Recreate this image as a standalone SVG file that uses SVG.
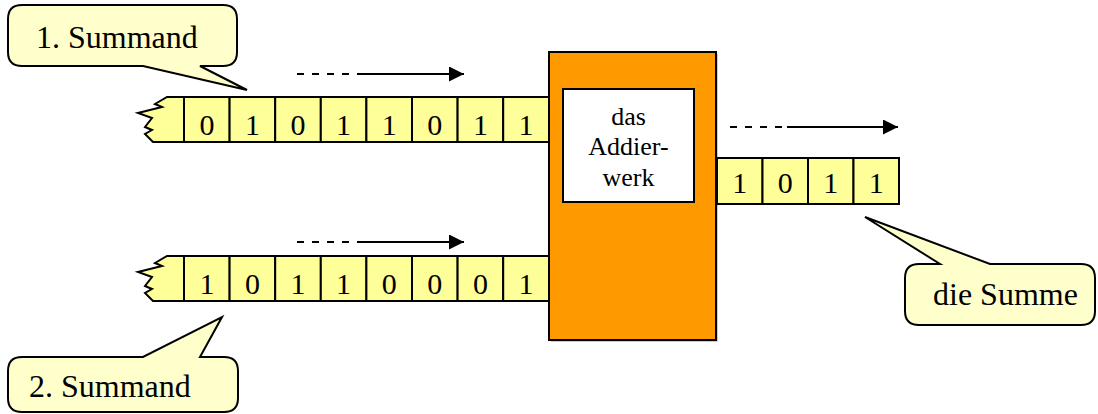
<svg xmlns="http://www.w3.org/2000/svg" width="1098" height="414" viewBox="0 0 1098 414">
<style>
.tape{fill:#FFFF99;stroke:#000;stroke-width:2;stroke-linejoin:miter}
.cell{fill:#FFFF99;stroke:#000;stroke-width:2}
.call{fill:#FFFFCC;stroke:#000;stroke-width:2;stroke-linejoin:miter}
.dig{font-size:30px;fill:#000;text-anchor:middle}
.lbl{font-size:32px;fill:#000}
.box{font-size:26px;fill:#000;text-anchor:middle}
.dash{stroke:#000;stroke-width:2;stroke-dasharray:7 8;fill:none}
.solid{stroke:#000;stroke-width:2;fill:none}
</style>
<defs>
<marker id="ah" markerUnits="userSpaceOnUse" markerWidth="16" markerHeight="16" refX="15" refY="7.5" orient="auto">
<path d="M0,0 L15,7.5 L0,15 Z" fill="#000"/>
</marker>
</defs>

<g font-family="'Liberation Serif', 'Times New Roman', 'DejaVu Serif', serif">
<g id="callout1">
<path class="call" d="M22,5 H223 Q237,5 237,19 V52 Q237,66 223,66 H200 L247,90 L143,66 H22 Q8,66 8,52 V19 Q8,5 22,5 Z"/>
<text class="lbl" x="36" y="48">1. Summand</text>
</g>

<g id="callout2">
<path class="call" d="M22,357 H143 L222,317 L200,357 H224 Q238,357 238,371 V398 Q238,412 224,412 H22 Q8,412 8,398 V371 Q8,357 22,357 Z"/>
<text class="lbl" x="29" y="397">2. Summand</text>
</g>

<g id="callout3">
<path class="call" d="M919,264 H940 L865,217 L990,264 H1081 Q1095,264 1095,278 V311 Q1095,325 1081,325 H919 Q905,325 905,311 V278 Q905,264 919,264 Z"/>
<text class="lbl" x="933" y="305">die Summe</text>
</g>

<g id="tape1">
<path class="tape" d="M167,97 L549,97 L549,142 L153,142 L145,134 L152,130 L145,127 L152,118 L138,113 L162,107 L155,104 Z"/>
<rect class="cell" x="184" y="97" width="45.6" height="45"/>
<rect class="cell" x="229.6" y="97" width="45.6" height="45"/>
<rect class="cell" x="275.2" y="97" width="45.6" height="45"/>
<rect class="cell" x="320.8" y="97" width="45.6" height="45"/>
<rect class="cell" x="366.4" y="97" width="45.6" height="45"/>
<rect class="cell" x="412" y="97" width="45.6" height="45"/>
<rect class="cell" x="457.6" y="97" width="45.6" height="45"/>
<rect class="cell" x="503.2" y="97" width="45.8" height="45"/>
<text class="dig" x="207" y="135">0</text>
<text class="dig" x="252.5" y="135">1</text>
<text class="dig" x="298" y="135">0</text>
<text class="dig" x="343.6" y="135">1</text>
<text class="dig" x="389.2" y="135">1</text>
<text class="dig" x="434.8" y="135">0</text>
<text class="dig" x="480.4" y="135">1</text>
<text class="dig" x="526" y="135">1</text>
</g>

<g id="tape2">
<path class="tape" d="M167,256 L549,256 L549,301 L153,301 L145,293 L152,289 L145,286 L152,277 L138,272 L162,266 L155,263 Z"/>
<rect class="cell" x="184" y="256" width="45.6" height="45"/>
<rect class="cell" x="229.6" y="256" width="45.6" height="45"/>
<rect class="cell" x="275.2" y="256" width="45.6" height="45"/>
<rect class="cell" x="320.8" y="256" width="45.6" height="45"/>
<rect class="cell" x="366.4" y="256" width="45.6" height="45"/>
<rect class="cell" x="412" y="256" width="45.6" height="45"/>
<rect class="cell" x="457.6" y="256" width="45.6" height="45"/>
<rect class="cell" x="503.2" y="256" width="45.8" height="45"/>
<text class="dig" x="207" y="294">1</text>
<text class="dig" x="252.5" y="294">0</text>
<text class="dig" x="298" y="294">1</text>
<text class="dig" x="343.6" y="294">1</text>
<text class="dig" x="389.2" y="294">0</text>
<text class="dig" x="434.8" y="294">0</text>
<text class="dig" x="480.4" y="294">0</text>
<text class="dig" x="526" y="294">1</text>
</g>

<g id="adder">
<rect x="551" y="54" width="167" height="288" fill="#999" opacity="0.5"/>
<rect x="549" y="52" width="167" height="288" fill="#FF9900" stroke="#000" stroke-width="2"/>
<rect x="563" y="89" width="131" height="113" fill="#FFFFFF" stroke="#000" stroke-width="2"/>
<text class="box" x="628.5" y="125">das</text>
<text class="box" x="628.5" y="155">Addier-</text>
<text class="box" x="628.5" y="186">werk</text>
</g>

<g id="tape3">
<rect class="cell" x="717" y="158" width="45.5" height="46"/>
<rect class="cell" x="762.5" y="158" width="45.5" height="46"/>
<rect class="cell" x="808" y="158" width="45.5" height="46"/>
<rect class="cell" x="853.5" y="158" width="45.5" height="46"/>
<text class="dig" x="739.7" y="193">1</text>
<text class="dig" x="785.2" y="193">0</text>
<text class="dig" x="830.7" y="193">1</text>
<text class="dig" x="876.2" y="193">1</text>
</g>
</g>

<g id="connectors">
<line class="dash" x1="297" y1="74" x2="358" y2="74"/>
<line class="solid" x1="358" y1="74" x2="464" y2="74" marker-end="url(#ah)"/>
<line class="dash" x1="297" y1="242" x2="358" y2="242"/>
<line class="solid" x1="358" y1="242" x2="464" y2="242" marker-end="url(#ah)"/>
<line class="dash" x1="730" y1="127" x2="787" y2="127"/>
<line class="solid" x1="787" y1="127" x2="898" y2="127" marker-end="url(#ah)"/>
</g>
</svg>
